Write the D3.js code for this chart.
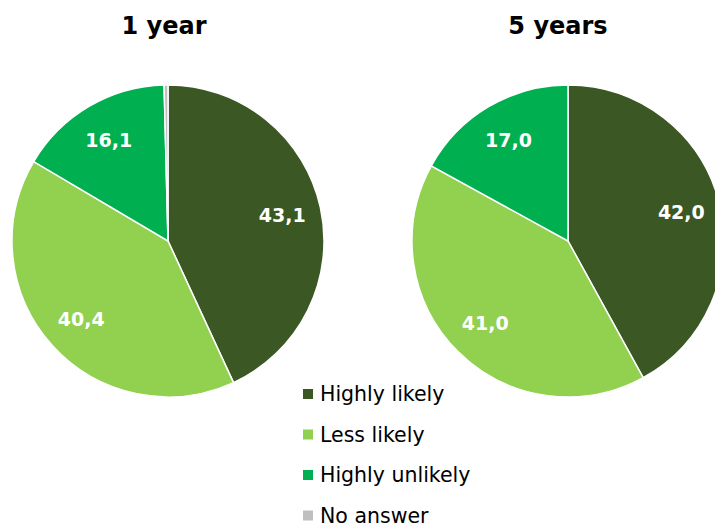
<!DOCTYPE html>
<html>
<head>
<meta charset="utf-8">
<script src="https://cdn.jsdelivr.net/npm/d3@7"></script>
<style>
  html, body { margin: 0; padding: 0; background: #fff; }
  svg text { font-family: "DejaVu Sans", Verdana, sans-serif; }
</style>
</head>
<body>
<svg id="chart" width="715" height="528"></svg>
<script>
// Survey answers, shares in percent
const categories = ["Highly likely", "Less likely", "Highly unlikely", "No answer"];
const colors = ["#3b5724", "#92d050", "#00b050", "#bfbfbf"];
const horizons = ["1 year", "5 years"];
const values1y = [43.1, 40.4, 16.1, 0.4];
const values5y = [42.0, 41.0, 17.0, 0.0];

const svg = d3.select("#chart");
const radius = 156;
const centers = [[168, 241], [568, 241]];
const titleX = [164, 558];
const series = [values1y, values5y];

const pie = d3.pie().sort(null).value(d => d);
const arc = d3.arc().innerRadius(0).outerRadius(radius);
const labelArc = d3.arc().innerRadius(radius * 0.75).outerRadius(radius * 0.75);
const fmt = v => v.toFixed(1).replace(".", ",");

series.forEach((vals, i) => {
  const g = svg.append("g").attr("transform", `translate(${centers[i][0]},${centers[i][1]})`);
  const arcs = pie(vals);
  g.selectAll("path").data(arcs).join("path")
    .attr("d", arc)
    .attr("fill", (d, j) => colors[j])
    .attr("stroke", "#fff")
    .attr("stroke-width", d => d.value > 0 ? 1.5 : 0);
  g.selectAll("text").data(arcs.filter(d => d.value >= 5)).join("text")
    .attr("transform", d => `translate(${labelArc.centroid(d)})`)
    .attr("text-anchor", "middle")
    .attr("dy", "0.35em")
    .attr("fill", "#fff")
    .attr("font-weight", "bold")
    .attr("font-size", 19)
    .text(d => fmt(d.value));
  svg.append("text")
    .attr("x", titleX[i]).attr("y", 34)
    .attr("text-anchor", "middle")
    .attr("font-weight", "bold")
    .attr("font-size", 24)
    .attr("fill", "#000")
    .text(horizons[i]);
});

// Legend
const legend = svg.append("g").attr("transform", "translate(303,394)");
const rows = legend.selectAll("g").data(categories).join("g")
  .attr("transform", (d, i) => `translate(0,${i * 40.5})`);
rows.append("rect").attr("x", 0).attr("y", -5).attr("width", 10).attr("height", 10)
  .attr("fill", (d, i) => colors[i]);
rows.append("text").attr("x", 17).attr("y", 0).attr("dy", "0.35em")
  .attr("font-size", 20.5).attr("fill", "#000").text(d => d);
</script>
</body>
</html>
